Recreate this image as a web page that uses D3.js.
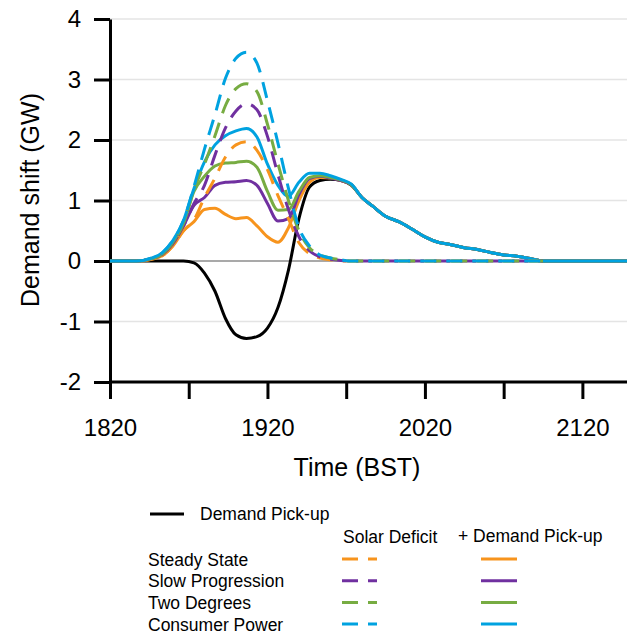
<!DOCTYPE html>
<meta charset="utf-8">
<style>
body { margin: 0; background: #fff; }
text { font-family: "Liberation Sans", Arial, sans-serif; fill: #000; }
.grid line { stroke: #e4e4e4; stroke-width: 1.5px; }
.axis path, .axis line { stroke: #000; stroke-width: 3px; }
.line { fill: none; stroke-width: 3px; }
</style>
<body>
<div id="chart"></div>
<script src="https://d3js.org/d3.v7.min.js"></script>
<script>

// minutes after 18:20 (BST)
var times = [0,10,16,20,24,28,32,36,40,44,48,52,56,60,64,68,72,76,80,84,88,92,
             96,100,105,110,115,120,125,130,135,140,145,150,155,160,165,197];

// demand pick-up on its own (black)
var pickup = [0,0,0,0,0,0,-0.03,-0.2,-0.5,-0.95,-1.22,-1.28,-1.25,-1.11,-0.77,-0.15,0.7,1.22,1.33,1.35,1.33,1.25,
              1.05,0.91,0.74,0.65,0.53,0.40,0.31,0.27,0.22,0.19,0.14,0.10,0.08,0.04,0,0];

// solar deficit + demand pick-up (solid)
var steadyPlus = [0,0,0.03,0.09,0.25,0.5,0.65,0.85,0.87,0.77,0.7,0.72,0.58,0.4,0.31,0.55,1.0,1.3,1.38,1.37,1.33,1.26,
                  1.05,0.91,0.74,0.65,0.53,0.40,0.31,0.27,0.22,0.19,0.14,0.10,0.08,0.04,0,0];
var slowPlus = [0,0,0.04,0.11,0.29,0.58,0.92,1.05,1.25,1.3,1.31,1.33,1.25,0.95,0.66,0.7,1.1,1.36,1.4,1.37,1.33,1.26,
                1.05,0.91,0.74,0.65,0.53,0.40,0.31,0.27,0.22,0.19,0.14,0.10,0.08,0.04,0,0];
var twoPlus = [0,0,0.04,0.12,0.31,0.62,1.15,1.4,1.57,1.62,1.63,1.65,1.55,1.15,0.84,0.85,1.15,1.38,1.41,1.38,1.34,1.26,
               1.05,0.91,0.74,0.65,0.53,0.40,0.31,0.27,0.22,0.19,0.14,0.10,0.08,0.04,0,0];
var consumerPlus = [0,0,0.05,0.14,0.34,0.67,1.2,1.64,1.92,2.07,2.15,2.19,2.05,1.6,1.25,1.07,1.3,1.45,1.45,1.41,1.35,1.27,
                    1.05,0.91,0.74,0.65,0.53,0.40,0.31,0.27,0.22,0.19,0.14,0.10,0.08,0.04,0,0];

// solar deficit only (dashed)
var deficitTimes = [0,10,16,20,24,28,32,36,40,44,48,52,56,60,64,68,72,76,80,84,88,92,165];
var steadyDef = [0,0,0.03,0.09,0.25,0.5,0.68,1.05,1.37,1.72,1.92,1.97,1.83,1.51,1.08,0.7,0.3,0.12,0.05,0.02,0,0,0];
var slowDef = [0,0,0.04,0.11,0.29,0.58,0.95,1.25,1.75,2.2,2.48,2.6,2.5,2.06,1.43,0.85,0.4,0.17,0.07,0.03,0.01,0,0];
var twoDef = [0,0,0.04,0.12,0.31,0.62,1.18,1.6,2.07,2.57,2.85,2.93,2.8,2.26,1.61,1.0,0.5,0.22,0.1,0.05,0.02,0,0];
var consumerDef = [0,0,0.05,0.14,0.34,0.67,1.23,1.85,2.42,3.02,3.35,3.45,3.27,2.65,1.95,1.2,0.55,0.25,0.1,0.05,0.02,0,0];

var scenarios = ["Steady State", "Slow Progression", "Two Degrees", "Consumer Power"];
var colors = ["#f7941d", "#7030a0", "#77ac42", "#00a2e0"];
var plusSeries = [steadyPlus, slowPlus, twoPlus, consumerPlus];
var defSeries = [steadyDef, slowDef, twoDef, consumerDef];

var xTicks = [0, 30, 60, 90, 120, 150, 180];
var xTickLabels = {0: "1820", 60: "1920", 120: "2020", 180: "2120"};
var yTicks = [-2, -1, 0, 1, 2, 3, 4];

var width = 627, height = 634;

var svg = d3.select("#chart").append("svg")
    .attr("width", width)
    .attr("height", height);

var x = d3.scaleLinear().domain([0, 197]).range([110, 627]);
var y = d3.scaleLinear().domain([-2, 4]).range([382, 19]);

// gridlines
svg.append("g").attr("class", "grid")
  .selectAll("line")
  .data(yTicks.filter(function(d) { return d !== -2 && d !== 0; }))
  .enter().append("line")
    .attr("x1", x(0)).attr("x2", width)
    .attr("y1", function(d) { return y(d); })
    .attr("y2", function(d) { return y(d); });

// zero line
svg.append("line")
    .attr("x1", x(0)).attr("x2", width)
    .attr("y1", y(0)).attr("y2", y(0))
    .style("stroke", "#8c8c8c")
    .style("stroke-width", "1.5px");

// axes
var yAxis = svg.append("g").attr("class", "axis")
    .attr("transform", "translate(" + x(0) + ",0)")
    .call(d3.axisLeft(y).tickValues(yTicks).tickSize(16).tickPadding(13).tickSizeOuter(0)
      .tickFormat(function(d) { return String(d); }));
yAxis.selectAll("text").style("font-size", "24px");

var xAxis = svg.append("g").attr("class", "axis")
    .attr("transform", "translate(0," + y(-2) + ")")
    .call(d3.axisBottom(x).tickValues(xTicks).tickSize(17).tickPadding(20).tickSizeOuter(0)
      .tickFormat(function(d) { return xTickLabels[d] || ""; }));
xAxis.selectAll("text").style("font-size", "24px");
xAxis.select("path").attr("d", "M" + x(0) + ",0H" + width);

// titles
svg.append("text")
    .attr("x", 357).attr("y", 476)
    .attr("text-anchor", "middle")
    .style("font-size", "25px")
    .text("Time (BST)");

svg.append("text")
    .attr("transform", "translate(39,200) rotate(-90)")
    .attr("text-anchor", "middle")
    .style("font-size", "25px")
    .text("Demand shift (GW)");

// lines
function lineFor(ts) {
  return d3.line()
    .x(function(d, i) { return x(ts[i]); })
    .y(function(d) { return y(d); })
    .curve(d3.curveMonotoneX);
}

svg.append("path")
    .datum(pickup)
    .attr("class", "line")
    .attr("stroke", "#000")
    .attr("d", lineFor(times));

plusSeries.forEach(function(s, i) {
  svg.append("path")
      .datum(s)
      .attr("class", "line")
      .attr("stroke", colors[i])
      .attr("d", lineFor(times));
});

defSeries.forEach(function(s, i) {
  svg.append("path")
      .datum(s)
      .attr("class", "line")
      .attr("stroke", colors[i])
      .attr("stroke-dasharray", "16,10")
      .attr("d", lineFor(deficitTimes));
});

// legend
var legend = svg.append("g").style("font-size", "17.5px");

legend.append("line")
    .attr("x1", 150).attr("x2", 184).attr("y1", 514).attr("y2", 514)
    .style("stroke", "#000").style("stroke-width", 3);
legend.append("text").attr("x", 200).attr("y", 520).text("Demand Pick-up");

legend.append("text").attr("x", 343).attr("y", 543).text("Solar Deficit");
legend.append("text").attr("x", 458).attr("y", 542).text("+ Demand Pick-up");

var rows = legend.selectAll("g.row")
    .data(scenarios)
    .enter().append("g")
    .attr("class", "row")
    .attr("transform", function(d, i) { return "translate(0," + (559 + i * 21.7) + ")"; });

rows.append("text").attr("x", 148).attr("y", 6.5).text(function(d) { return d; });
rows.append("line")
    .attr("x1", 342).attr("x2", 377).attr("y1", 0).attr("y2", 0)
    .style("stroke", function(d, i) { return colors[i]; })
    .style("stroke-width", 3)
    .style("stroke-dasharray", "16,10");
rows.append("line")
    .attr("x1", 481).attr("x2", 517).attr("y1", 0).attr("y2", 0)
    .style("stroke", function(d, i) { return colors[i]; })
    .style("stroke-width", 3);

</script>
</body>
